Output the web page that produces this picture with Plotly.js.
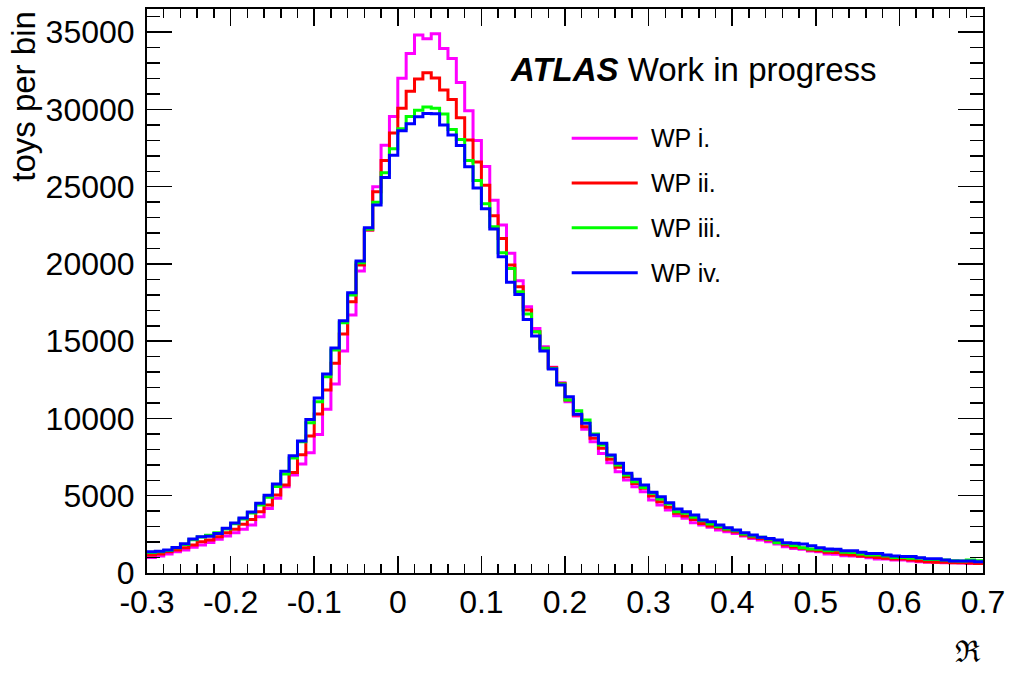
<!DOCTYPE html>
<html>
<head>
<meta charset="utf-8">
<script src="https://cdn.plot.ly/plotly-3.0.1.min.js"></script>
<style>html,body{margin:0;padding:0;background:#fff;}#chart{width:1010px;height:674px;}</style>
</head>
<body>
<div id="chart"></div>
<script>
// Histogram binning: 100 bins of width 0.01 from -0.3 to 0.7
const binLow = -0.3;
const binWidth = 0.01;

const seriesNames = ["WP i.", "WP ii.", "WP iii.", "WP iv."];
const seriesColors = ["#ff00ff", "#ff0000", "#00ff00", "#0000ff"];

const wp1 = [1010,1100,1230,1380,1490,1660,1810,1980,2180,2390,
  2610,2830,3110,3640,4180,4830,5580,6350,7050,7780,
  8970,10590,12230,14360,16690,19540,22190,24990,27690,29550,
  32020,33620,34810,34570,34900,33950,33300,31750,29920,27990,
  26310,24130,22520,20690,18910,17230,15830,14640,13310,12310,
  11080,10160,9300,8500,7740,7130,6550,6020,5580,5260,
  4720,4400,4080,3710,3540,3260,3110,2960,2780,2670,
  2560,2390,2240,2140,2030,1880,1700,1580,1530,1420,
  1380,1230,1210,1120,1100,1060,990,910,910,840,
  840,780,730,690,690,670,670,650,620,620];

const wp2 = [1160,1230,1380,1490,1640,1810,2030,2140,2350,2610,
  2830,3150,3470,3970,4400,5050,5690,6500,7650,8860,
  10290,11840,13570,15460,17550,19930,22190,24670,26700,28470,
  30070,31170,31970,32380,32030,31250,30650,29470,28020,26600,
  25100,23120,21650,19930,18520,17020,15610,14540,13280,12270,
  11190,10220,9470,8720,8070,7360,6840,6230,5800,5480,
  4980,4610,4250,3860,3690,3470,3210,3040,2930,2780,
  2650,2460,2310,2240,2140,2030,1810,1680,1600,1490,
  1440,1340,1320,1210,1160,1100,1060,1010,950,910,
  910,840,780,730,690,690,670,670,650,620];

const wp3 = [1330,1380,1460,1640,1850,2150,2330,2450,2600,2850,
  3180,3500,3880,4400,4900,5600,6400,7450,8500,9720,
  11080,12700,14430,16190,17990,20080,22240,24000,25900,27450,
  28750,29550,29950,30150,30080,29700,28700,28050,26700,25400,
  23900,22410,20730,19710,18200,16760,15610,14540,13230,12230,
  11190,10500,9900,9000,8280,7570,6990,6340,5910,5540,
  5160,4790,4460,3970,3860,3600,3380,3170,3000,2850,
  2740,2520,2390,2310,2180,1960,1900,1780,1640,1550,
  1530,1440,1490,1340,1320,1230,1160,1160,1100,1010,
  1010,950,950,880,880,840,800,780,840,800];

const wp4 = [1380,1400,1490,1650,1900,2200,2350,2380,2550,2900,
  3230,3560,3950,4510,5030,5760,6580,7590,8540,9940,
  11330,12880,14560,16330,18140,20190,22340,23810,25600,27040,
  28620,29070,29520,29740,29720,29000,28340,27670,26290,24910,
  23570,22260,20470,18810,18030,16410,15330,14360,13200,12160,
  11410,10270,9690,8930,8400,7630,7100,6450,6060,5690,
  5220,4940,4550,4140,3970,3750,3430,3320,3110,2930,
  2780,2610,2460,2310,2240,2140,1960,1920,1880,1770,
  1640,1550,1530,1440,1440,1340,1270,1270,1160,1100,
  1060,1060,990,930,930,840,780,780,780,730];

const xTickVals = [-0.3,-0.2,-0.1,0,0.1,0.2,0.3,0.4,0.5,0.6,0.7];
const xTickText = ["-0.3","-0.2","-0.1","0","0.1","0.2","0.3","0.4","0.5","0.6","0.7"];
const yTickVals = [0,5000,10000,15000,20000,25000,30000,35000];
const yTickText = ["0","5000","10000","15000","20000","25000","30000","35000"];

const allSeries = [wp1, wp2, wp3, wp4];

function edges(n) {
  const e = [];
  for (let i = 0; i <= n; i++) e.push(+(binLow + i * binWidth).toFixed(4));
  return e;
}

const traces = allSeries.map((vals, i) => ({
  type: "scatter",
  mode: "lines",
  x: edges(vals.length),
  y: vals.concat([vals[vals.length - 1]]),
  line: {shape: "hv", color: seriesColors[i], width: 3},
  name: seriesNames[i],
  showlegend: false,
  hoverinfo: "skip"
}));

const FONT = "Liberation Sans, Arial, Helvetica, sans-serif";

// Manual ROOT-style legend
const legX0 = 0.508, legX1 = 0.587, legTextX = 0.601, legY0 = 0.771, legDy = 0.0795;
const shapes = seriesNames.map((n, i) => ({
  type: "line", xref: "paper", yref: "paper",
  x0: legX0, x1: legX1, y0: legY0 - i * legDy, y1: legY0 - i * legDy,
  line: {color: seriesColors[i], width: 3}
}));
const annotations = seriesNames.map((n, i) => ({
  xref: "paper", yref: "paper", x: legTextX, y: legY0 - i * legDy,
  xanchor: "left", yanchor: "middle", showarrow: false,
  text: n, font: {family: FONT, size: 25, color: "#000"}
}));
annotations.push({
  xref: "paper", yref: "paper", x: 0.432, y: 0.893,
  xanchor: "left", yanchor: "middle", showarrow: false,
  text: "<b><i>ATLAS</i></b> Work in progress",
  font: {family: FONT, size: 33, color: "#000"}
});
annotations.push({
  xref: "paper", yref: "paper", x: -0.148, y: 1.0,
  xanchor: "center", yanchor: "top", showarrow: false, textangle: -90,
  text: "toys per bin",
  font: {family: FONT, size: 33, color: "#000"}
});
annotations.push({
  xref: "paper", yref: "paper", x: 0.982, y: -0.14,
  xanchor: "center", yanchor: "middle", showarrow: false,
  text: "\u211C",
  font: {family: "DejaVu Serif, serif", size: 30, color: "#000"}
});

const layout = {
  width: 1010, height: 674,
  margin: {l: 147, r: 27, t: 9, b: 101},
  paper_bgcolor: "#fff", plot_bgcolor: "#fff",
  showlegend: false,
  font: {family: FONT, size: 32, color: "#000"},
  xaxis: {
    range: [-0.3, 0.7], tickmode: "array", tickvals: xTickVals, ticktext: xTickText,
    ticks: "inside", ticklen: 17, tickwidth: 1.5, tickcolor: "#000",
    showline: true, linecolor: "#000", linewidth: 2, mirror: "allticks",
    showgrid: false, zeroline: false,
    tickfont: {family: FONT, size: 32, color: "#000"},
    minor: {dtick: 0.02, tick0: -0.3, ticks: "inside", ticklen: 9, tickwidth: 1.5, tickcolor: "#000", showgrid: false}
  },
  yaxis: {
    range: [0, 36500], tickmode: "array", tickvals: yTickVals, ticktext: yTickText,
    ticks: "inside", ticklen: 25, tickwidth: 1.5, tickcolor: "#000",
    showline: true, linecolor: "#000", linewidth: 2, mirror: "allticks",
    showgrid: false, zeroline: false,
    tickfont: {family: FONT, size: 32, color: "#000"},
    ticklabelstandoff: 4,
    minor: {dtick: 1000, tick0: 0, ticks: "inside", ticklen: 13, tickwidth: 1.5, tickcolor: "#000", showgrid: false}
  },
  shapes: shapes,
  annotations: annotations
};

Plotly.newPlot("chart", traces, layout, {displayModeBar: false, staticPlot: true});
</script>
</body>
</html>
